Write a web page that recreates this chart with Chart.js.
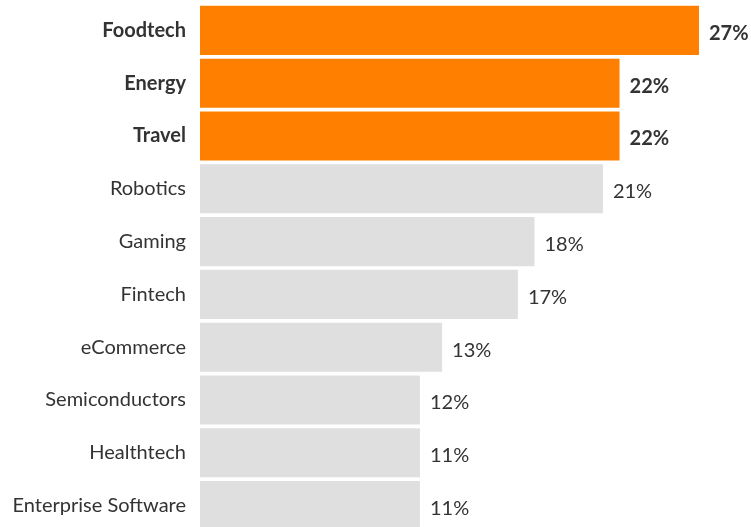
<!DOCTYPE html>
<html lang="en">
<head>
<meta charset="UTF-8">
<title>Sectors</title>
<script src="https://cdn.jsdelivr.net/npm/chart.js@4.4.0/dist/chart.umd.min.js"></script>
<style>
  * { margin:0; padding:0; box-sizing:border-box; }
  html, body { width:751px; height:527px; overflow:hidden; background:#fff; }
  .wrap { position:relative; width:751px; height:532px; }
</style>
</head>
<body>
<div class="wrap"><canvas id="chart"></canvas></div>
<script>
const sectors = ['Foodtech','Energy','Travel','Robotics','Gaming','Fintech','eCommerce','Semiconductors','Healthtech','Enterprise Software'];
const shares = [27, 22.7, 22.7, 21.8, 18.1, 17.2, 13.1, 11.9, 11.9, 11.9];
const shareLabels = ['27%','22%','22%','21%','18%','17%','13%','12%','11%','11%'];
const highlighted = [true, true, true, false, false, false, false, false, false, false];

const ORANGE = '#ff8000', GREY = '#dfdfdf', INK = '#333333';
const FONT = "Lato, 'Open Sans', sans-serif";

// value labels at the end of each bar
const endLabels = {
  id:'endLabels',
  afterDatasetsDraw(chart) {
    const ctx = chart.ctx;
    chart.getDatasetMeta(0).data.forEach((bar, i) => {
      ctx.save();
      ctx.font = (highlighted[i] ? 'bold ' : '') + '20px ' + FONT;
      ctx.fillStyle = INK;
      ctx.textAlign = 'left';
      ctx.textBaseline = 'middle';
      ctx.fillText(shareLabels[i], bar.x + 10, bar.y + 3);
      ctx.restore();
    });
  }
};

new Chart(document.getElementById('chart'), {
  type:'bar',
  data:{ labels:sectors, datasets:[{
    data:shares,
    backgroundColor:highlighted.map(h => h ? ORANGE : GREY),
    barPercentage:0.93, categoryPercentage:1
  }]},
  options:{
    indexAxis:'y', responsive:true, maintainAspectRatio:false, animation:false,
    layout:{ padding:{ top:4, right:52, bottom:0, left:0 } },
    plugins:{ legend:{display:false}, tooltip:{enabled:false} },
    scales:{
      x:{ display:false, min:0, max:27 },
      y:{
        grid:{display:false}, border:{display:false},
        afterFit(scale) { scale.width = 200; scale.paddingTop = 0; scale.paddingBottom = 0; },
        ticks:{
          padding:6, color:INK,
          font:(c) => ({ family:FONT, size:20, weight: highlighted[c.index] ? 'bold' : 'normal' })
        }
      }
    }
  },
  plugins:[endLabels]
});
</script>
</body>
</html>
